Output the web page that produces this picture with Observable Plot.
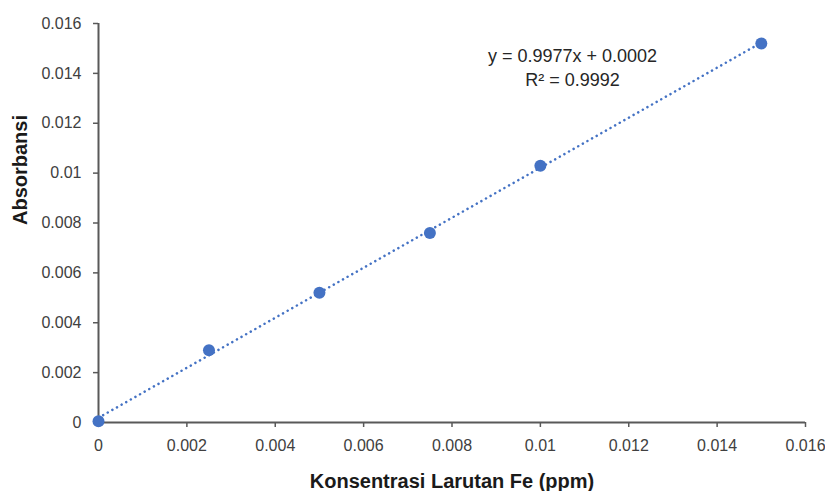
<!DOCTYPE html>
<html><head><meta charset="utf-8">
<script src="https://cdn.jsdelivr.net/npm/d3@7"></script>
<script src="https://cdn.jsdelivr.net/npm/@observablehq/plot@0.6"></script>
<style>
body{margin:0;background:#fff}
svg{font-family:"Liberation Sans Narrow","Arial Narrow","Liberation Sans",sans-serif}
</style>
</head><body><div id="chart"></div>
<script>
const concentrations = [0, 0.0025, 0.005, 0.0075, 0.01, 0.015];
const absorbances = [0.00005, 0.0029, 0.0052, 0.0076, 0.0103, 0.0152];
const xTicks = [0, 0.002, 0.004, 0.006, 0.008, 0.01, 0.012, 0.014, 0.016];
const yTicks = [0, 0.002, 0.004, 0.006, 0.008, 0.01, 0.012, 0.014, 0.016];
const equationLines = ["y = 0.9977x + 0.0002", "R² = 0.9992"];
const xLabel = "Konsentrasi Larutan Fe (ppm)";
const yLabel = "Absorbansi";

const data = concentrations.map((x, i) => ({x, y: absorbances[i]}));
const blue = "#4472C4";
const axisColor = "#595959";

const chart = Plot.plot({
  width: 825, height: 491,
  marginLeft: 98, marginRight: 20, marginTop: 23, marginBottom: 69,
  x: {domain: [0, 0.016]},
  y: {domain: [0, 0.016]},
  style: {fontSize: "16px", color: "#404040", background: "#fff"},
  marks: [
    Plot.axisY({ticks: yTicks, tickFormat: d => String(d), tickSize: 5, tickPadding: 12, label: null, stroke: axisColor, strokeWidth: 1.5, fill: "#404040"}),
    Plot.axisX({ticks: xTicks, tickFormat: d => String(d), tickSize: 5, tickPadding: 12, label: null, stroke: axisColor, strokeWidth: 1.5, fill: "#404040"}),
    Plot.ruleX([0], {stroke: axisColor, strokeWidth: 2}),
    Plot.ruleY([0], {stroke: axisColor, strokeWidth: 2}),
    Plot.linearRegressionY(data, {x: "x", y: "y", ci: 0, stroke: blue, strokeWidth: 2.5, strokeDasharray: "0.1,5.2", strokeLinecap: "round"}),
    Plot.dot(data, {x: "x", y: "y", r: 6, fill: blue}),
    Plot.text([equationLines.join("\n")], {frameAnchor: "top-right", dx: -233, dy: 21, lineAnchor: "top", textAnchor: "middle", lineHeight: 1.35, fontSize: 18, fill: "#262626"}),
    Plot.text([xLabel], {frameAnchor: "bottom", dy: 65, fontWeight: "bold", fontSize: 20, fill: "#1a1a1a"}),
    Plot.text([yLabel], {frameAnchor: "left", dx: -78, dy: 2, rotate: -90, fontWeight: "bold", fontSize: 20, fill: "#1a1a1a"})
  ]
});
document.getElementById("chart").append(chart);
</script>
</body></html>
